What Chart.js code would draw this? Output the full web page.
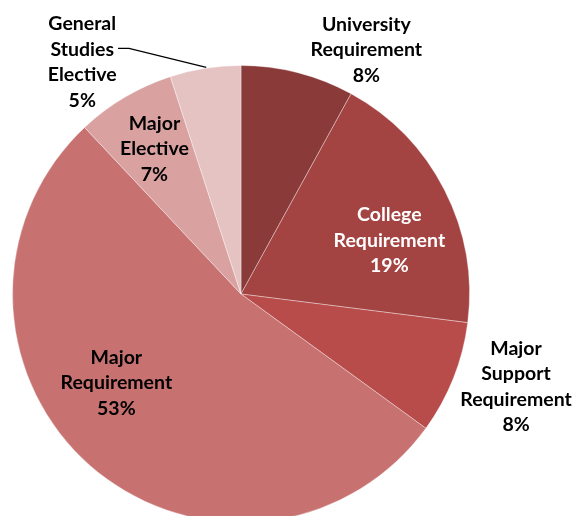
<!DOCTYPE html>
<html>
<head>
<meta charset="utf-8">
<script src="https://cdn.jsdelivr.net/npm/chart.js@4.4.0/dist/chart.umd.min.js"></script>
<style>
  html, body { margin: 0; padding: 0; background: #fff; overflow: hidden; }
  #wrap { position: relative; width: 576px; height: 530px; }
</style>
</head>
<body>
<div id="wrap"><canvas id="pie"></canvas></div>
<script>
// ─── DATA ────────────────────────────────────────────
const categories = [
  ['University', 'Requirement'],
  ['College', 'Requirement'],
  ['Major', 'Support', 'Requirement'],
  ['Major', 'Requirement'],
  ['Major', 'Elective'],
  ['General', 'Studies', 'Elective']
];
const shares = [8, 19, 8, 53, 7, 5];
const sliceColors = ['#8B3A3A', '#A34443', '#B84C4A', '#C77170', '#D9A1A0', '#E5C3C3'];

// label placement: angle from 12 o'clock (deg, clockwise), distance as share of radius
const LABEL_POS = [
  { deg: 27.2, f: 1.20, color: '#000' },
  { deg: 70.2, f: 0.69, color: '#fff' },
  { deg: 108.6, f: 1.27, color: '#000' },
  { deg: 234.5, f: 0.67, color: '#000' },
  { deg: 329.2, f: 0.74, color: '#000' },
  { deg: 325.6, f: 1.23, color: '#000', leader: true }
];
const FONT = 'bold 19.5px Lato';
const LINE_H = 25.5;

// ─── LABEL PLUGIN ────────────────────────────────────
const pieLabels = {
  id: 'pieLabels',
  afterDatasetsDraw(chart) {
    const ctx = chart.ctx;
    const arcs = chart.getDatasetMeta(0).data;
    ctx.save();
    ctx.font = FONT;
    ctx.textAlign = 'center';
    ctx.textBaseline = 'middle';
    arcs.forEach((arc, i) => {
      const pos = LABEL_POS[i];
      const rad = (pos.deg - 90) * Math.PI / 180;
      const cx = arc.x + Math.cos(rad) * pos.f * arc.outerRadius;
      const cy = arc.y + Math.sin(rad) * pos.f * arc.outerRadius;
      const lines = [...categories[i], shares[i] + '%'];
      const top = cy - (lines.length - 1) * LINE_H / 2;
      ctx.fillStyle = pos.color;
      lines.forEach((t, k) => ctx.fillText(t, cx, top + k * LINE_H));

      if (pos.leader) {
        const mid = (arc.startAngle + arc.endAngle) / 2;
        const ex = arc.x + Math.cos(mid) * arc.outerRadius;
        const ey = arc.y + Math.sin(mid) * arc.outerRadius;
        const w = ctx.measureText(lines[1]).width;
        const sx = cx + w / 2 + 4;
        const sy = top + LINE_H - 1;
        ctx.strokeStyle = '#000';
        ctx.lineWidth = 1.3;
        ctx.beginPath();
        ctx.moveTo(sx, sy);
        ctx.lineTo(sx + 11, sy);
        ctx.lineTo(ex + 1, ey - 1);
        ctx.stroke();
      }
    });
    ctx.restore();
  }
};

// ─── CHART ───────────────────────────────────────────
new Chart(document.getElementById('pie').getContext('2d'), {
  type: 'pie',
  data: {
    labels: categories.map(c => c.join(' ')),
    datasets: [{
      data: shares,
      backgroundColor: sliceColors,
      borderColor: 'rgba(255,255,255,0.35)',
      borderWidth: 1
    }]
  },
  options: {
    responsive: true,
    maintainAspectRatio: false,
    animation: false,
    layout: { padding: { top: 65, bottom: 7, left: 12, right: 106 } },
    plugins: {
      legend: { display: false },
      tooltip: { enabled: false }
    }
  },
  plugins: [pieLabels]
});
</script>
</body>
</html>
